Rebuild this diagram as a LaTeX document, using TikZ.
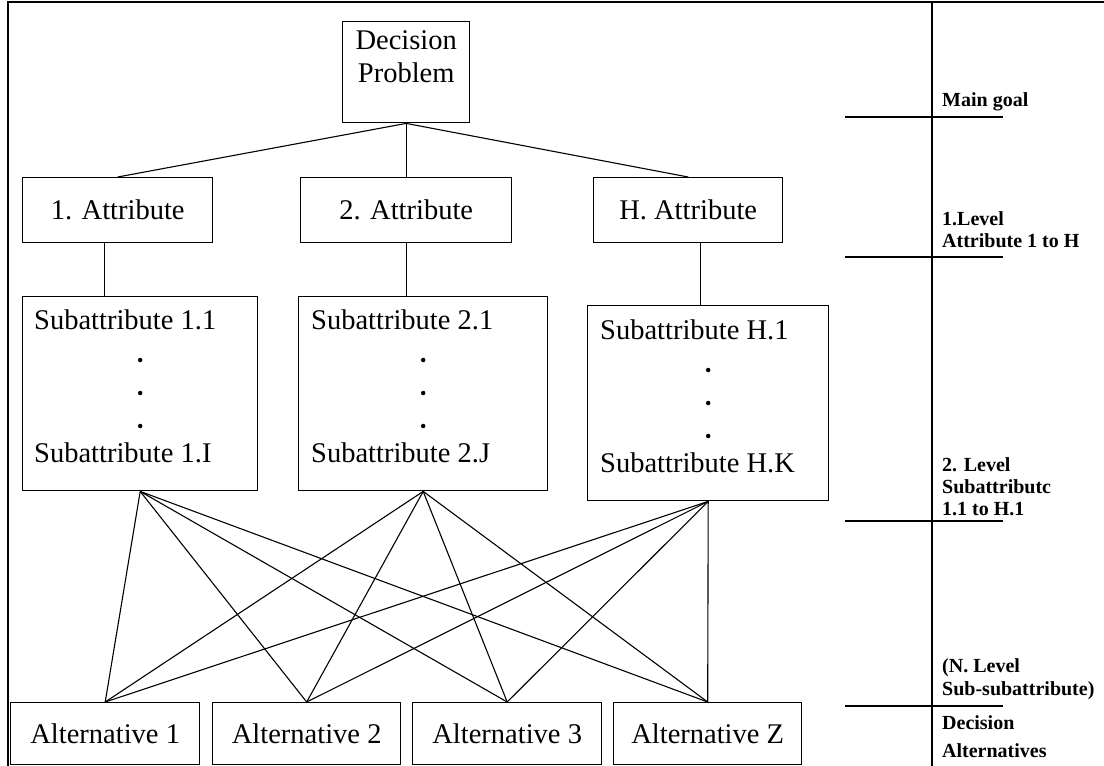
\documentclass[tikz,border=0pt]{standalone}
\usepackage{fontspec}
\setmainfont{Liberation Serif}
\begin{document}
\begin{tikzpicture}[x=1pt,y=-1pt,
  box/.style={draw, line width=1.4pt, inner sep=0pt, anchor=north west},
  big/.style={font=\fontsize{28.5}{32}\selectfont},
  txt/.style={big, inner sep=0pt},
  side/.style={font=\fontsize{20}{22}\selectfont\bfseries, anchor=base west, inner sep=0pt},
  link/.style={line width=1.1pt},
  frame/.style={line width=1.8pt},
  tick/.style={line width=1.4pt},
  dotmark/.style={circle, fill, inner sep=0pt, minimum size=4.5pt}]
\useasboundingbox (0,0) rectangle (1104,766);

% outer frame and the divider between diagram and level column
\draw[frame] (1104,2) -- (8,2) -- (8,766);
\draw[frame] (932,2) -- (932,766);

% main goal
\node[box, minimum width=127pt, minimum height=101pt] (goal) at (342,21) {};
\node[txt, anchor=base] (goalA) at ([yshift=-28pt]goal.north) {Decision};
\node[txt, anchor=base] (goalB) at ([yshift=-61pt]goal.north) {Problem};

% first level attributes
\node[box, big, minimum width=190pt, minimum height=65pt] (attr1) at (22,177) {1. Attribute};
\node[box, big, minimum width=211pt, minimum height=65pt] (attr2) at (300,177) {2. Attribute};
\node[box, big, minimum width=189pt, minimum height=65pt] (attrH) at (593,177) {H. Attribute};

% second level subattribute boxes
\node[box, minimum width=235pt, minimum height=194pt] (sub1) at (22,296) {};
\node[box, minimum width=249pt, minimum height=194pt] (sub2) at (298,296) {};
\node[box, minimum width=241pt, minimum height=195pt] (subH) at (587,305) {};

\node[txt, anchor=base west] (sub1a) at ([shift={(12,33)}]sub1.north west) {Subattribute 1.1};
\node[txt, anchor=base west] (sub1b) at ([shift={(12,166)}]sub1.north west) {Subattribute 1.I};
\node[dotmark] (sub1d1) at ([shift={(0,64)}]sub1.north) {};
\node[dotmark] (sub1d2) at ([shift={(0,97)}]sub1.north) {};
\node[dotmark] (sub1d3) at ([shift={(0,130)}]sub1.north) {};

\node[txt, anchor=base west] (sub2a) at ([shift={(13,33)}]sub2.north west) {Subattribute 2.1};
\node[txt, anchor=base west] (sub2b) at ([shift={(13,166)}]sub2.north west) {Subattribute 2.J};
\node[dotmark] (sub2d1) at ([shift={(0,64)}]sub2.north) {};
\node[dotmark] (sub2d2) at ([shift={(0,97)}]sub2.north) {};
\node[dotmark] (sub2d3) at ([shift={(0,130)}]sub2.north) {};

\node[txt, anchor=base west] (subHa) at ([shift={(13,34)}]subH.north west) {Subattribute H.1};
\node[txt, anchor=base west] (subHb) at ([shift={(13,167)}]subH.north west) {Subattribute H.K};
\node[dotmark] (subHd1) at ([shift={(0,65)}]subH.north) {};
\node[dotmark] (subHd2) at ([shift={(0,98)}]subH.north) {};
\node[dotmark] (subHd3) at ([shift={(0,131)}]subH.north) {};

% decision alternatives
\node[box, big, minimum width=189pt, minimum height=62pt] (alt1) at (10,702) {Alternative 1};
\node[box, big, minimum width=188pt, minimum height=62pt] (alt2) at (212,702) {Alternative 2};
\node[box, big, minimum width=189pt, minimum height=62pt] (alt3) at (412,702) {Alternative 3};
\node[box, big, minimum width=188pt, minimum height=62pt] (altZ) at (613,702) {Alternative Z};

% tree connectors
\draw[link] (goal.south) -- (attr1.north);
\draw[link] (goal.south) -- (attr2.north);
\draw[link] (goal.south) -- (attrH.north);
\draw[link] ([xshift=-13pt]attr1.south) -- ([xshift=-13pt]attr1.south |- sub1.north);
\draw[link] (attr2.south) -- (attr2.south |- sub2.north);
\draw[link] ([xshift=12.5pt]attrH.south) -- ([xshift=12.5pt]attrH.south |- subH.north);
\foreach \s in {sub1,sub2,subH}
  \foreach \a in {alt1,alt2,alt3,altZ}
    \draw[link] (\s.south) -- (\a.north);

% level column
\draw[tick] (845,117) -- (1003,117);
\draw[tick] (845,257) -- (1003,257);
\draw[tick] (845,521) -- (1003,521);
\draw[tick] (845,706) -- (1003,706);

\node[side] (lv0) at (942,106) {Main goal};
\node[side] (lv1a) at (942,225) {1.Level};
\node[side] (lv1b) at (942,247) {Attribute 1 to H};
\node[side] (lv2a) at (942,471) {2. Level};
\node[side] (lv2b) at (942,493) {Subattributc};
\node[side] (lv2c) at (942,515) {1.1 to H.1};
\node[side] (lvNa) at (942,672) {(N. Level};
\node[side] (lvNb) at (942,695) {Sub-subattribute)};
\node[side] (lvDa) at (942,729) {Decision};
\node[side] (lvDb) at (942,757) {Alternatives};
\end{tikzpicture}
\end{document}
